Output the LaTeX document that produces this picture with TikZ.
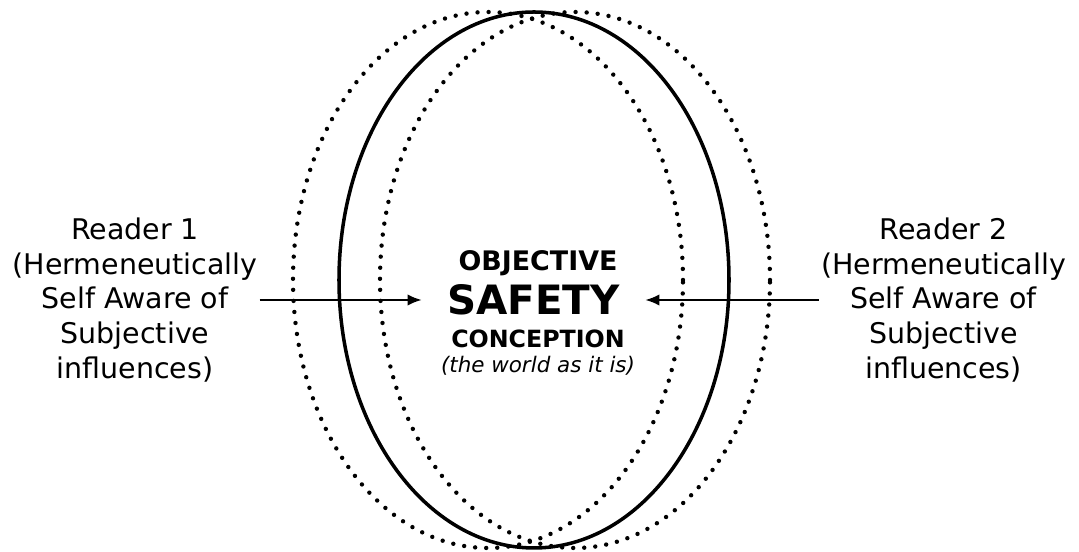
\documentclass[tikz,border=0pt]{standalone}
\usepackage{fontspec}
\setmainfont{DejaVu Sans}
\usetikzlibrary{arrows.meta, positioning}

\begin{document}
\begin{tikzpicture}[
    reader/.style={align=center, inner sep=1pt, font=\fontsize{16.2}{19.7}\selectfont},
    title/.style={anchor=base, inner sep=0pt, font=\bfseries\fontsize{15.3}{17}\selectfont},
    arrow/.style={-{Latex[length=8pt, width=6.5pt]}, line width=1.1pt},
    outline/.style={line width=2pt},
    dotline/.style={line width=2.5pt, line cap=round, dash pattern=on 0pt off 6.3pt}
]
\useasboundingbox (0,0) rectangle (21.58,11.04);

% ====================== ELLIPSES ======================
\draw[dotline] (9.76,5.44) ellipse [x radius=3.9, y radius=5.36];
\draw[dotline] (11.5,5.44) ellipse [x radius=3.9, y radius=5.36];
\draw[outline] (10.68,5.44) ellipse [x radius=3.9, y radius=5.36];

% ====================== OBJECTIVE CONCEPTION ======================
\node[title] (objective) at (10.76,5.62) {OBJECTIVE};
\node[title, font=\bfseries\fontsize{23}{26}\selectfont, minimum width=4.46cm] (safety) at (10.67,4.74) {SAFETY};
\node[title, font=\bfseries\fontsize{13.5}{16}\selectfont] (conception) at (10.76,4.08) {CONCEPTION};
\node[title, font=\itshape\fontsize{12.2}{15}\selectfont] (world) at (10.76,3.58) {(the world as it is)};

% ====================== READERS ======================
\node[reader] (reader1) at (2.7,5.04)
    {Reader 1\\(Hermeneutically\\Self Aware of\\Subjective\\influences)};
\node[reader] (reader2) at (18.87,5.04)
    {Reader 2\\(Hermeneutically\\Self Aware of\\Subjective\\influences)};

% ====================== ARROWS ======================
\draw[arrow] (reader1.east) -- (reader1.east -| safety.west);
\draw[arrow] (reader2.west) -- (reader2.west -| safety.east);

\end{tikzpicture}
\end{document}
